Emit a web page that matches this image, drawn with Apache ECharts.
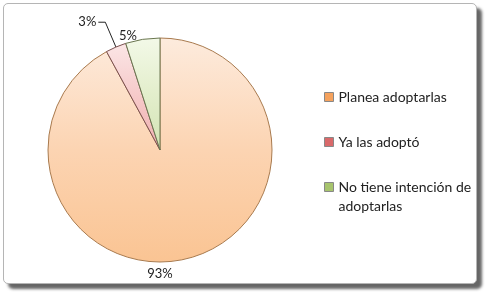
<!DOCTYPE html>
<html><head><meta charset="utf-8">
<script src="https://cdn.jsdelivr.net/npm/echarts@6/dist/echarts.min.js"></script>
<style>
html,body{margin:0;padding:0;background:#fff;width:486px;height:296px;overflow:hidden}
#frame{position:absolute;left:3px;top:3px;width:472px;height:279px;border:1px solid #b5b5b5;border-radius:5px;box-shadow:5px 5px 3px rgba(0,0,0,0.6);background:#fff}
#chart{position:absolute;left:0;top:0;width:486px;height:296px}
</style></head>
<body>
<div id="frame"></div>
<div id="chart"></div>
<script>
const categories = ['Planea adoptarlas', 'Ya las adoptó', 'No tiene intención de adoptarlas'];
const values = [93, 3, 5];
const legendLabels = ['Planea adoptarlas', 'Ya las adoptó', 'No tiene intención de\nadoptarlas'];

const fills = [
  ['#fdebdd', '#fcd4b2', '#fac493'],
  ['#fbe6e6', '#f6c9c9', '#f0b0b0'],
  ['#f3f9e8', '#e3eecc', '#d3e4b4']
];
const borders = ['#a87a4e', '#7a5050', '#6a7650'];
const legendColors = ['#f5a25d', '#d9696a', '#a7c46d'];

const labelLines = [
  {show:false, length:2, length2:2},
  {show:true, length:27, length2:7},
  {show:false, length:4, length2:3}
];

const CX = 160, CY = 150, R = 112;

const data = categories.map((n,i)=>({
  name:n, value:values[i],
  itemStyle:{
    color:{type:'linear',x:0,y:0,x2:0,y2:1,colorStops:[
      {offset:0,color:fills[i][0]},{offset:0.5,color:fills[i][1]},{offset:1,color:fills[i][2]}]},
    borderColor:borders[i], borderWidth:1
  },
  labelLine:labelLines[i]
}));

const legendText = {fontFamily:'Lato, "Open Sans", sans-serif', fontSize:14, color:'#222', lineHeight:19};
const legendItem = (i) => ({name:categories[i], itemStyle:{color:legendColors[i], borderColor:'#888', borderWidth:1}});
const legendBase = {
  orient:'vertical', left:319, itemGap:26,
  itemWidth:9, itemHeight:9, icon:'rect',
  textStyle:legendText
};

const chart = echarts.init(document.getElementById('chart'), null, {renderer:'canvas'});
chart.setOption({
  animation:false,
  legend:[
    Object.assign({}, legendBase, {top:82.5, data:[legendItem(0), legendItem(1)],
      formatter:(name)=>legendLabels[categories.indexOf(name)]}),
    Object.assign({}, legendBase, {top:153.5, data:[legendItem(2)],
      formatter:(name)=>'\n'+legendLabels[categories.indexOf(name)]})
  ],
  series:[{
    type:'pie', center:[CX,CY], radius:R, startAngle:90, clockwise:true,
    avoidLabelOverlap:false,
    label:{show:true, position:'outside', formatter:'{c}%', fontFamily:'Lato, "Open Sans", sans-serif', fontSize:13, color:'#222', distanceToLabelLine:2},
    labelLine:{lineStyle:{color:'#222', width:1}},
    labelLayout:function(p){
      if(p.dataIndex===0){ return {x:CX, y:CY+R+12, align:'center', verticalAlign:'middle'}; }
      return {};
    },
    data:data
  }]
});
</script>
</body></html>
